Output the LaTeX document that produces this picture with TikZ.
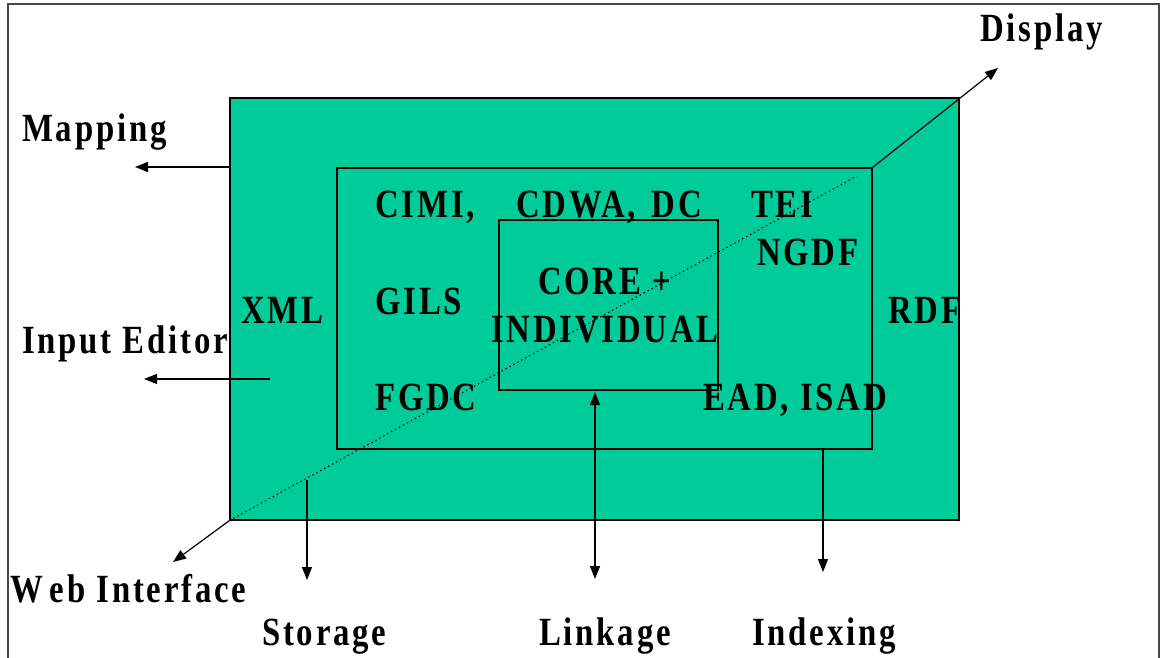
\documentclass[tikz,border=0pt]{standalone}
\usepackage{fontspec}
\setmainfont{Liberation Serif}
\newfontfamily\lab[LetterSpace=7,FakeStretch=0.82]{Liberation Serif}
\usetikzlibrary{arrows.meta,calc}
\definecolor{boxgreen}{RGB}{0,204,153}
\definecolor{framegray}{RGB}{70,70,70}
\begin{document}
\begin{tikzpicture}[x=1pt,y=-1pt,
  lbl/.style={anchor=base west,inner sep=0pt,font=\lab\bfseries\fontsize{40}{42}\selectfont},
  box/.style={draw=black,line width=1.3pt,anchor=center,inner sep=0pt,fill=boxgreen},
  arr/.style={-{Triangle[length=13pt,width=10pt]},line width=1.2pt},
  dbl/.style={{Triangle[length=13pt,width=10pt]}-{Triangle[length=13pt,width=10pt]},line width=1.2pt},
  dots/.style={line width=1.1pt,dash pattern=on 1.5pt off 3pt}]
\useasboundingbox (0,0) rectangle (1160,658);
\clip (0,0) rectangle (1160,658);
\fill[white] (0,0) rectangle (1160,658);
\draw[framegray,line width=1.5pt] (8,4) rectangle (1159,700);

% boxes
\node[box,minimum width=729pt,minimum height=422pt] (outer) at (594.5,309) {};
\node[box,minimum width=535pt,minimum height=281pt] (inner) at (604.5,308.5) {};
\node[box,minimum width=219pt,minimum height=170pt] (core) at (608.5,305) {};

% arrow ends
\coordinate (mapT) at (135,167);
\coordinate (inS) at (270,379);
\coordinate (inT) at (144,379);
\coordinate (webT) at (173,562);
\coordinate (dispT) at (998,68);
\coordinate (stoS) at (307,480);
\coordinate (stoT) at (307,580);
\coordinate (linkT) at (595,579);
\coordinate (idxT) at (823,572);

% connectors
\draw[dots] (outer.south west) -- ($(outer.south west)!0.975!(inner.north east)$);
\draw[arr] (outer.west |- mapT) -- (mapT);
\draw[arr] (inS) -- (inT);
\draw[arr] (outer.south west) -- (webT);
\draw[arr] (inner.north east) -- (dispT);
\draw[arr] (stoS) -- (stoT);
\draw[dbl,shorten <=1.5pt] (core.south -| linkT) -- (linkT);
\draw[arr] (inner.south -| idxT) -- (idxT);

% labels outside
\node[lbl] (tMapping) at (22,142) {Mapping};
\node[lbl] (tDisplay) at (980,42) {Display};
\node[lbl] (tInput) at (22,353) {Input Editor};
\node[lbl] (tWeb) at (10,602) {W\kern7pt eb Interface};
\node[lbl] (tStorage) at (262,645) {Storage};
\node[lbl] (tLinkage) at (539,645) {Linkage};
\node[lbl] (tIndexing) at (752,645) {Indexing};

% labels inside
\node[lbl] (tXML) at (241,323) {XML};
\node[lbl] (tRDF) at (888,323) {RDF};
\node[lbl] (tCIMI) at (375,218) {CIMI,};
\node[lbl] (tCDWA) at (516,218) {CDWA, \kern5pt DC};
\node[lbl] (tTEI) at (751,218) {TEI};
\node[lbl] (tNGDF) at (757,265) {NGDF};
\node[lbl] (tGILS) at (375,314) {GILS};
\node[lbl] (tCORE) at (538,294) {CORE +};
\node[lbl] (tIND) at (491,342) {INDIVIDUAL};
\node[lbl] (tFGDC) at (375,410) {FGDC};
\node[lbl] (tEAD) at (703,410) {EAD, ISAD};
\end{tikzpicture}
\end{document}
